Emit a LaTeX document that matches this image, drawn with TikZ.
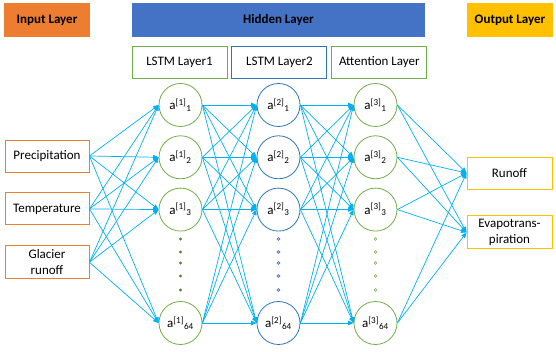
\documentclass[tikz,border=0pt]{standalone}
\usepackage{fontspec}
\setmainfont{Carlito}
\usetikzlibrary{arrows.meta, positioning}
\usepackage{xcolor}
\definecolor{inputcolor}{RGB}{237, 125, 49}
\definecolor{hiddencolor}{RGB}{68, 114, 196}
\definecolor{outputcolor}{RGB}{255, 192, 0}
\definecolor{greencolor}{RGB}{112, 173, 71}
\definecolor{bluecolor}{RGB}{46, 117, 182}
\definecolor{arrowcolor}{RGB}{0, 176, 240}
\definecolor{dotcolor}{RGB}{84, 130, 53}

\begin{document}
\begin{tikzpicture}[
    x=1pt, y=1pt,
    node distance=8.5pt and 4pt,
    box/.style={rectangle, draw, line width=0.9pt, minimum width=84pt, minimum height=32pt, inner sep=1pt, align=center, font=\fontsize{13}{16}\selectfont},
    head/.style={rectangle, minimum height=34pt, minimum width=86pt, font=\fontsize{13}{16}\selectfont\bfseries},
    inbox/.style={box, draw=inputcolor},
    outbox/.style={box, draw=outputcolor, minimum width=85pt},
    layerbox/.style={box, minimum width=95pt},
    neuron/.style={circle, draw, line width=0.8pt, minimum size=43pt, inner sep=0pt, font=\fontsize{13}{16}\selectfont},
    arrow/.style={-{Triangle[length=5.5pt, width=4.5pt]}, line width=0.7pt, arrowcolor}
]
\useasboundingbox (0,0) rectangle (556,352);

% Layer titles
\node[head, fill=inputcolor] (inhead) at (47,332) {Input Layer};
\node[head, fill=hiddencolor, minimum width=293pt] (hidhead) at (278.5,332) {Hidden Layer};
\node[head, fill=outputcolor] (outhead) at (510,332) {Output Layer};

% Hidden sub-layers
\node[layerbox, draw=greencolor] (lstm1) at (179.5,290) {LSTM Layer1};
\node[layerbox, draw=bluecolor, right=of lstm1] (lstm2) {LSTM Layer2};
\node[layerbox, draw=greencolor, right=of lstm2] (att) {Attention Layer};

% Inputs
\node[inbox] (prec) at (47,196) {Precipitation};
\node[inbox, below=20pt of prec] (temp) {Temperature};
\node[inbox, below=20pt of temp, minimum height=33pt] (glac) {Glacier\\runoff};

% LSTM Layer1
\node[neuron, draw=greencolor] (a1_1) at (180.5,247) {a\textsuperscript{[1]}\textsubscript{1}};
\node[neuron, draw=greencolor, below=of a1_1] (a1_2) {a\textsuperscript{[1]}\textsubscript{2}};
\node[neuron, draw=greencolor, below=of a1_2] (a1_3) {a\textsuperscript{[1]}\textsubscript{3}};
\node[neuron, draw=greencolor] (a1_64) at (180.5,29) {a\textsuperscript{[1]}\textsubscript{64}};

% LSTM Layer2
\node[neuron, draw=bluecolor] (a2_1) at (278.5,247) {a\textsuperscript{[2]}\textsubscript{1}};
\node[neuron, draw=bluecolor, below=of a2_1] (a2_2) {a\textsuperscript{[2]}\textsubscript{2}};
\node[neuron, draw=bluecolor, below=of a2_2] (a2_3) {a\textsuperscript{[2]}\textsubscript{3}};
\node[neuron, draw=bluecolor] (a2_64) at (278.5,29) {a\textsuperscript{[2]}\textsubscript{64}};

% Attention Layer
\node[neuron, draw=greencolor] (a3_1) at (375.5,247) {a\textsuperscript{[3]}\textsubscript{1}};
\node[neuron, draw=greencolor, below=of a3_1] (a3_2) {a\textsuperscript{[3]}\textsubscript{2}};
\node[neuron, draw=greencolor, below=of a3_2] (a3_3) {a\textsuperscript{[3]}\textsubscript{3}};
\node[neuron, draw=greencolor] (a3_64) at (375.5,29) {a\textsuperscript{[3]}\textsubscript{64}};

% Outputs
\node[outbox] (runoff) at (509.5,179) {Runoff};
\node[outbox, below=26pt of runoff, minimum height=33pt] (evap) {Evapotrans-\\piration};

% Dots
\foreach \y in {113,100,89,76,62} {
    \fill[dotcolor] (180.5,\y) circle (1.6pt);
    \draw[hiddencolor, line width=0.6pt] (278.5,\y) circle (1.4pt);
    \draw[greencolor!80, line width=0.6pt] (375.5,\y) circle (1.4pt);
}

% Arrows
\foreach \s in {prec,temp,glac}
    \foreach \t in {1,2,3,64}
        \draw[arrow] (\s.east) -- (a1_\t.west);
\foreach \s in {1,2,3,64}
    \foreach \t in {1,2,3,64} {
        \draw[arrow] (a1_\s.east) -- (a2_\t.west);
        \draw[arrow] (a2_\s.east) -- (a3_\t.west);
    }
\foreach \s in {1,2,3,64}
    \foreach \t in {runoff,evap}
        \draw[arrow] (a3_\s.east) -- (\t.west);

\end{tikzpicture}
\end{document}
